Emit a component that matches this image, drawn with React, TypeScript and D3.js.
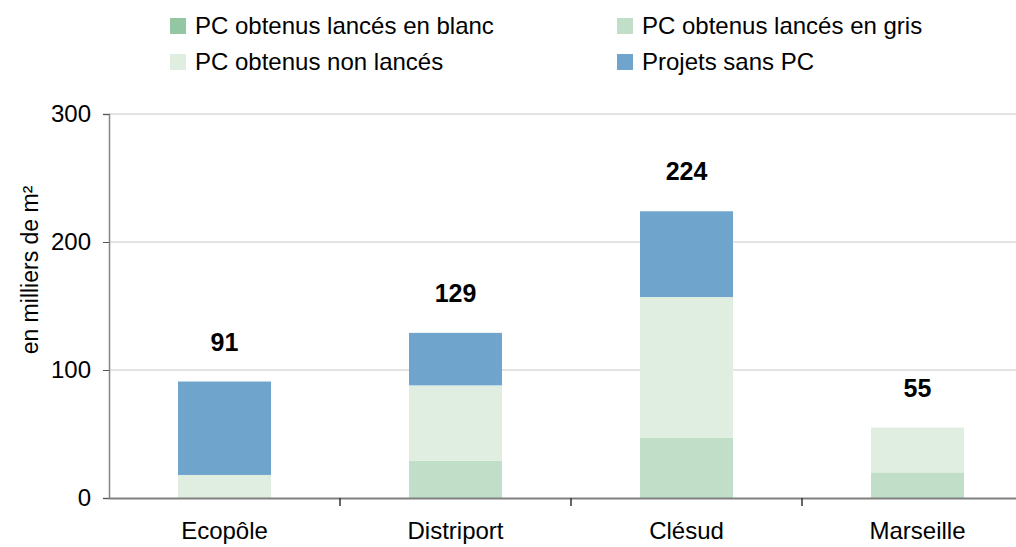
import React, { useEffect, useRef } from "react";
import * as d3 from "d3";

const categories = ["Ecopôle", "Distriport", "Clésud", "Marseille"];
const seriesNames = [
  "PC obtenus lancés en blanc",
  "PC obtenus lancés en gris",
  "PC obtenus non lancés",
  "Projets sans PC",
];
const lancesBlanc = [0, 0, 0, 0];
const lancesGris = [0, 29, 47, 20];
const nonLances = [18, 59, 110, 35];
const sansPC = [73, 41, 67, 0];
const totals = [91, 129, 224, 55];
const yTicks = [0, 100, 200, 300];

const colors = ["#93c6a3", "#c1dfc8", "#e0eee1", "#6fa5cd"];

export default function App() {
  const ref = useRef<SVGSVGElement>(null);

  useEffect(() => {
    const svg = d3.select(ref.current);
    svg.selectAll("*").remove();

    const left = 109, right = 1033, top = 114, bottom = 498;
    const font = "'Liberation Sans', Arial, sans-serif";

    const x = d3.scaleBand().domain(categories).range([left, right]);
    const y = d3.scaleLinear().domain([0, 300]).range([bottom, top]);

    const table = categories.map((c, i) => ({
      cat: c,
      [seriesNames[0]]: lancesBlanc[i],
      [seriesNames[1]]: lancesGris[i],
      [seriesNames[2]]: nonLances[i],
      [seriesNames[3]]: sansPC[i],
    }));
    const stacked = d3.stack<any>().keys(seriesNames)(table);

    // gridlines
    svg
      .append("g")
      .selectAll("line")
      .data(yTicks.filter((t) => t > 0))
      .join("line")
      .attr("x1", left)
      .attr("x2", right)
      .attr("y1", (d) => y(d))
      .attr("y2", (d) => y(d))
      .attr("stroke", "#c8c8c8")
      .attr("stroke-width", 1);

    // bars
    const barW = 93;
    svg
      .append("g")
      .selectAll("g")
      .data(stacked)
      .join("g")
      .attr("fill", (d, i) => colors[i])
      .selectAll("rect")
      .data((d) => d)
      .join("rect")
      .attr("x", (d: any) => x(d.data.cat)! + x.bandwidth() / 2 - barW / 2)
      .attr("width", barW)
      .attr("y", (d) => y(d[1]))
      .attr("height", (d) => y(d[0]) - y(d[1]));

    // y axis
    const yAxis = svg
      .append("g")
      .attr("transform", `translate(${left},0)`)
      .call(d3.axisLeft(y).tickValues(yTicks).tickSize(6).tickPadding(12));
    yAxis.select(".domain").attr("stroke", "#858585").attr("stroke-width", 1.5);
    yAxis.selectAll(".tick line").attr("stroke", "#555");
    yAxis
      .selectAll("text")
      .attr("font-family", font)
      .attr("font-size", 24)
      .attr("fill", "#000");

    // x axis
    const xAxis = svg
      .append("g")
      .attr("transform", `translate(0,${bottom})`)
      .call(d3.axisBottom(x).tickSize(0).tickPadding(24));
    xAxis.select(".domain").attr("stroke", "#808080").attr("stroke-width", 2);
    xAxis
      .selectAll("text")
      .attr("font-family", font)
      .attr("font-size", 24)
      .attr("fill", "#000");
    xAxis
      .append("g")
      .selectAll("line")
      .data(categories.slice(1))
      .join("line")
      .attr("x1", (d) => x(d)!)
      .attr("x2", (d) => x(d)!)
      .attr("y1", 0)
      .attr("y2", 8)
      .attr("stroke", "#333")
      .attr("stroke-width", 1.5);

    // y axis title
    svg
      .append("text")
      .attr("transform", `translate(38,270) rotate(-90)`)
      .attr("text-anchor", "middle")
      .attr("font-family", font)
      .attr("font-size", 23)
      .text("en milliers de m²");

    // total labels
    svg
      .append("g")
      .selectAll("text")
      .data(totals)
      .join("text")
      .attr("x", (d, i) => x(categories[i])! + x.bandwidth() / 2)
      .attr("y", (d) => y(d) - 31)
      .attr("text-anchor", "middle")
      .attr("font-family", font)
      .attr("font-size", 25)
      .attr("font-weight", "bold")
      .text((d) => d);

    // legend
    const legPos = [
      [170, 18],
      [617, 18],
      [170, 54],
      [617, 54],
    ];
    const leg = svg
      .append("g")
      .selectAll("g")
      .data(seriesNames)
      .join("g")
      .attr("transform", (d, i) => `translate(${legPos[i][0]},${legPos[i][1]})`);
    leg
      .append("rect")
      .attr("width", 16)
      .attr("height", 16)
      .attr("fill", (d, i) => colors[i]);
    leg
      .append("text")
      .attr("x", 25)
      .attr("y", 16)
      .attr("font-family", font)
      .attr("font-size", 24)
      .attr("fill", "#000")
      .text((d) => d);
  }, []);

  return (
    <svg
      ref={ref}
      width={1016}
      height={547}
      style={{ position: "absolute", left: 0, top: 0, background: "#fff" }}
    />
  );
}
